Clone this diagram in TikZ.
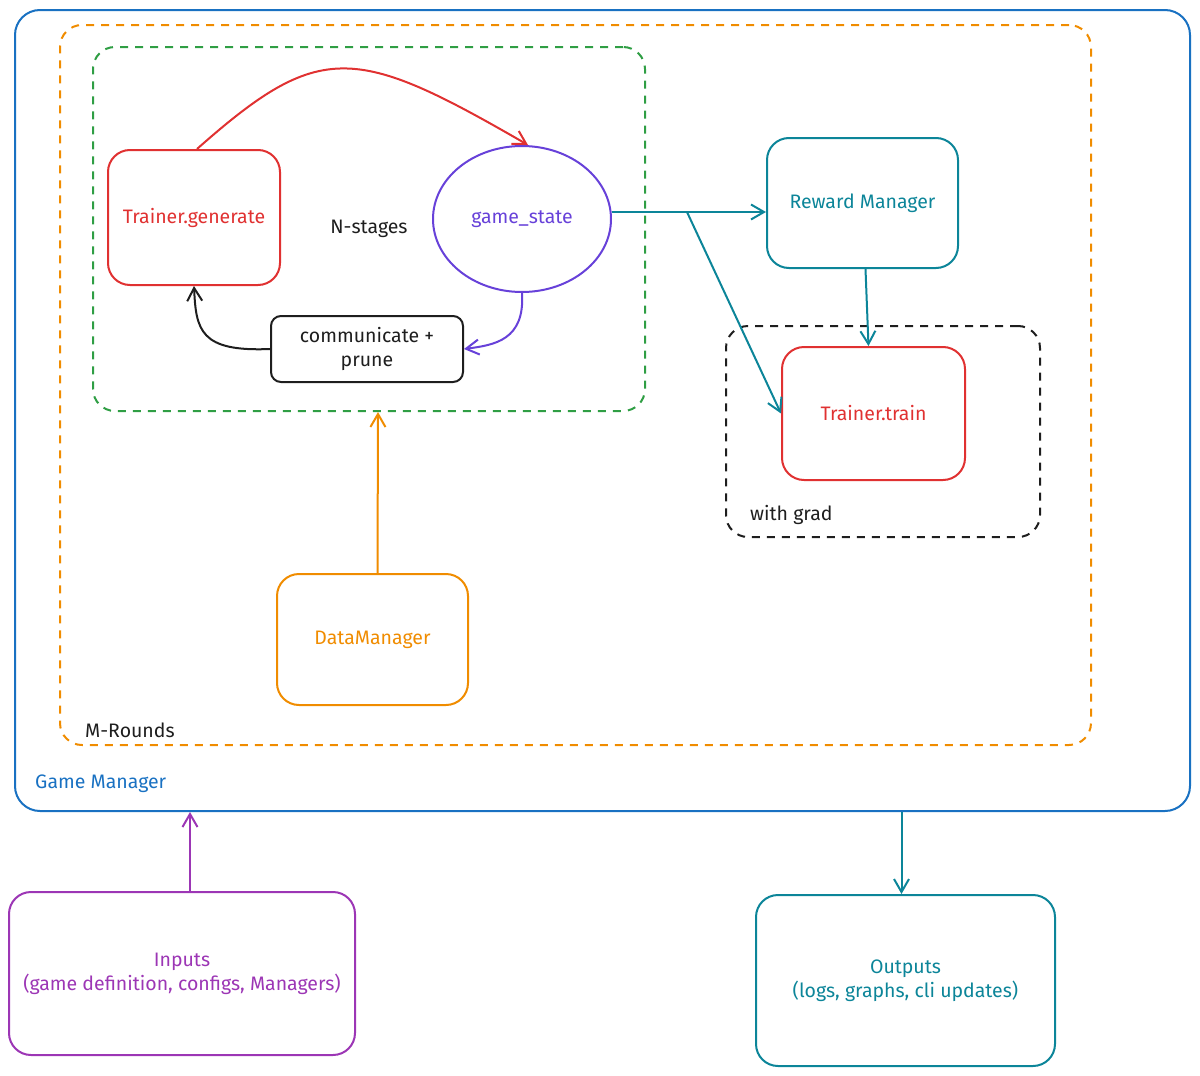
\documentclass[tikz,border=0pt]{standalone}
\usepackage{fontspec}
\setmainfont{Fira Sans}
\usetikzlibrary{shapes.geometric,arrows.meta,calc}
\definecolor{cblue}{HTML}{1971C2}
\definecolor{corange}{HTML}{F08C00}
\definecolor{cgreen}{HTML}{2F9E44}
\definecolor{cred}{HTML}{E03131}
\definecolor{cviolet}{HTML}{6741D9}
\definecolor{cteal}{HTML}{0C8599}
\definecolor{cpurple}{HTML}{9C36B5}
\definecolor{cblack}{HTML}{1E1E1E}
\tikzset{
  box/.style={draw, line width=2pt, rounded corners=22pt, align=center, inner sep=0pt},
  frame/.style={draw, line width=2pt, dash pattern=on 8pt off 7pt, rounded corners=22pt, inner sep=0pt},
  lbl/.style={anchor=west, inner sep=0pt},
  conn/.style={line width=2pt, -{Straight Barb[length=13pt,width=15pt,line width=2pt]}},
}
\begin{document}
\begin{tikzpicture}[x=1pt,y=-1pt, font=\fontsize{19.5}{24}\selectfont]
\useasboundingbox (0,0) rectangle (1200,1076);
% containers
\node[box, cblue, rounded corners=25pt, minimum width=1175pt, minimum height=801pt] (gm) at (602.5,410.5) {};
\node[frame, corange, minimum width=1031pt, minimum height=720pt] (rounds) at (575.5,385) {};
\node[frame, cgreen, minimum width=552pt, minimum height=364pt, text=cblack] (stages) at (369,229) {N-stages};
\node[frame, cblack, minimum width=314pt, minimum height=211pt] (wg) at (883,431.5) {};
\node[lbl, cblue] (gml) at (35,784) {Game Manager};
\node[lbl, cblack] (mrl) at (85,730) {M-Rounds};
\node[lbl, cblack] (wgl) at (750,515) {with grad};
% nodes
\node[box, cred, minimum width=172pt, minimum height=135pt] (tg) at (194,217.5) {Trainer.generate};
\node[draw, ellipse, cviolet, line width=2pt, minimum width=178pt, minimum height=146pt, inner sep=0pt] (gs) at (522,219) {game\_state};
\node[box, cblack, rounded corners=10pt, minimum width=192pt, minimum height=66pt] (cp) at (367,349) {communicate +\\prune};
\node[box, cteal, minimum width=191pt, minimum height=130pt] (rm) at (862.5,203) {Reward Manager};
\node[box, cred, minimum width=183pt, minimum height=133pt] (tt) at (873.5,413.5) {Trainer.train};
\node[box, corange, minimum width=191pt, minimum height=131pt] (dm) at (372.5,639.5) {DataManager};
\node[box, cpurple, minimum width=346pt, minimum height=163pt] (inp) at (182,973.5) {Inputs\\(game definition, configs, Managers)};
\node[box, cteal, minimum width=299pt, minimum height=171pt] (out) at (905.5,980.5) {Outputs\\(logs, graphs, cli updates)};
% connectors
\draw[conn, cred] ($(tg.north)+(3,0)$) .. controls (320,40) and (355,45) .. ($(gs.north)+(6,0)$);
\draw[conn, cviolet] (gs.south) .. controls (525,340) and (495,345) .. (cp.east);
\draw[conn, cblack] (cp.west) .. controls (200,352) and (196,330) .. (tg.south);
\coordinate (br) at (687,212);
\draw[conn, cteal] (gs.east |- br) -- (rm.west |- br);
\draw[conn, cteal] (br) -- (tt.west);
\draw[conn, cteal] ($(rm.south)+(3,0)$) -- ($(tt.north)+(-5,0)$);
\draw[conn, corange] ($(dm.north)+(5,0)$) -- ($(stages.south)+(9,0)$);
\coordinate (ia) at ($(inp.north)+(8,0)$);
\draw[conn, cpurple] (ia) -- (ia |- gm.south);
\coordinate (oa) at ($(out.north)+(-4,0)$);
\draw[conn, cteal] (oa |- gm.south) -- (oa);
\end{tikzpicture}
\end{document}
